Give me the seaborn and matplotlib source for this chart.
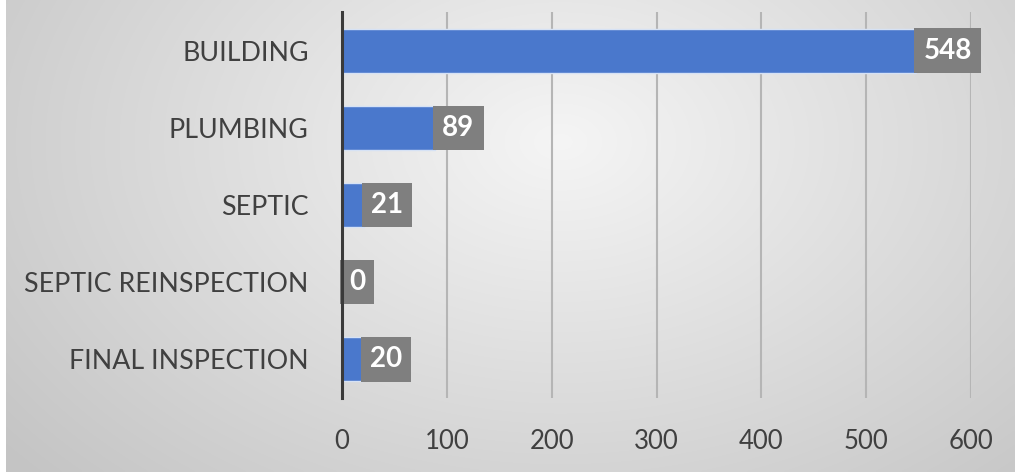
import numpy as np
import pandas as pd
import matplotlib
matplotlib.use("Agg")
import matplotlib.pyplot as plt
import seaborn as sns

# données
categories = ["BUILDING", "PLUMBING", "SEPTIC", "SEPTIC REINSPECTION", "FINAL INSPECTION"]
counts = [548, 89, 21, 0, 20]
xticks = [0, 100, 200, 300, 400, 500, 600]

df = pd.DataFrame({"type": categories, "count": counts})

sns.set_style("white")
plt.rcParams["font.family"] = ["Lato", "DejaVu Sans"]

W, H = 1015, 472
fig = plt.figure(figsize=(W / 100, H / 100), dpi=100, facecolor="white")

# fond dégradé radial (gris clair au centre, plus foncé sur les bords)
bg = fig.add_axes([6 / W, 0, 1 - 6 / W, 1])
gx, gy = np.meshgrid(np.linspace(0, 1, 400), np.linspace(0, 1, 200))
dist = np.sqrt(((gx - 0.55) / 0.75) ** 2 + ((gy - 0.3) / 1.1) ** 2)
grad = np.clip(0.96 - 0.2 * dist, 0.77, 0.965)
bg.imshow(np.dstack([grad] * 3), aspect="auto", extent=[0, 1, 1, 0], interpolation="bilinear")
bg.axis("off")

ax = fig.add_axes([342 / W, 1 - 398 / H, (971 - 342) / W, (398 - 12) / H])
ax.set_facecolor("none")

sns.barplot(data=df, x="count", y="type", orient="h", color="#4a78cc",
            width=0.57, edgecolor="#d6e2f5", linewidth=1, saturation=1, ax=ax, zorder=3)

ax.bar_label(ax.containers[0], padding=5, color="white", fontweight="bold",
             fontsize=20, bbox=dict(boxstyle="square,pad=0.33", fc="#7f7f7f", ec="none"),
             zorder=4)

ax.set_xlim(0, 600)
ax.set_ylim(4.5, -0.5)
ax.set_xticks(xticks)
ax.grid(axis="x", color="#b5b5b5", linewidth=1.5, zorder=0)
ax.set_axisbelow(True)
ax.set_xlabel("")
ax.set_ylabel("")

for side in ["top", "right", "bottom"]:
    ax.spines[side].set_visible(False)
ax.spines["left"].set_color("#3a3a3a")
ax.spines["left"].set_linewidth(2.2)
ax.spines["left"].set_zorder(5)

ax.tick_params(axis="y", length=0, pad=24, labelsize=19.3, labelcolor="#404040")
ax.tick_params(axis="x", length=0, pad=22, labelsize=18.5, labelcolor="#404040")

fig.savefig("out.png", dpi=100, facecolor="white")
